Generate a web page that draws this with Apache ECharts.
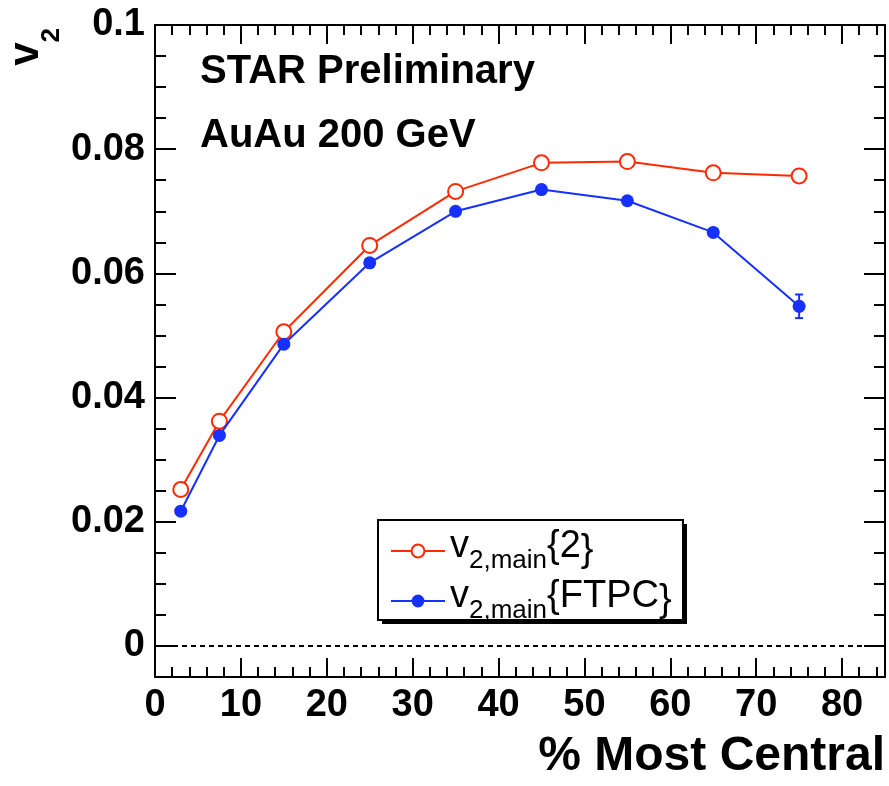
<!DOCTYPE html>
<html>
<head>
<meta charset="utf-8">
<script src="https://cdn.jsdelivr.net/npm/echarts@6/dist/echarts.min.js"></script>
<style>
  html, body { margin: 0; padding: 0; background: #fff; }
  #chart { width: 889px; height: 786px; }
</style>
</head>
<body>
<div id="chart"></div>
<script>
// ---- data ----
const centrality = [3, 7.5, 15, 25, 35, 45, 55, 65, 75];
const v2Two      = [0.0252, 0.0362, 0.0506, 0.0645, 0.0732, 0.0778, 0.0780, 0.0762, 0.0757];
const v2Ftpc     = [0.0217, 0.0339, 0.0486, 0.0617, 0.0700, 0.0735, 0.0717, 0.0666, 0.0547];
const v2FtpcErr  = [0, 0, 0, 0, 0, 0, 0, 0, 0.0019];

const seriesNames = ['v2,main{2}', 'v2,main{FTPC}'];
const legendRich  = ['{v|v}{s|2,main}{v|{2}}', '{v|v}{s|2,main}{v|{FTPC}}'];

const xTickValues = [0, 10, 20, 30, 40, 50, 60, 70, 80];
const xTickLabels = ['0', '10', '20', '30', '40', '50', '60', '70', '80'];
const xMinorTicks = [2,4,6,8,12,14,16,18,22,24,26,28,32,34,36,38,42,44,46,48,52,54,56,58,62,64,66,68,72,74,76,78,82,84];
const yTickValues = [0, 0.02, 0.04, 0.06, 0.08, 0.1];
const yTickLabels = ['0', '0.02', '0.04', '0.06', '0.08', '0.1'];
const yMinorTicks = [0.005,0.01,0.015,0.025,0.03,0.035,0.045,0.05,0.055,0.065,0.07,0.075,0.085,0.09,0.095];

const textLines = ['STAR Preliminary', 'AuAu 200 GeV'];
const xTitle = '% Most Central';

// ---- styling ----
const FONT = '"Liberation Sans", Arial, Helvetica, sans-serif';
const RED = '#ff2a00';
const BLUE = '#1530ff';
const X_MIN = 0, X_MAX = 85, Y_MIN = -0.005, Y_MAX = 0.1;

function labelFor(values, labels) {
  return function (v) {
    const i = values.findIndex(t => Math.abs(t - v) < 1e-9);
    return i >= 0 ? labels[i] : '';
  };
}

function xAx(pos, custom, len, withLabels, withLine) {
  return {
    type: 'value', position: pos, min: X_MIN, max: X_MAX,
    axisLine: { show: withLine, onZero: false, lineStyle: { color: '#000', width: 2 } },
    axisTick: { show: true, inside: true, length: len, customValues: custom, lineStyle: { color: '#000', width: 2 } },
    axisLabel: withLabels ? {
      show: true, customValues: xTickValues, formatter: labelFor(xTickValues, xTickLabels),
      margin: 10, color: '#000', fontFamily: FONT, fontWeight: 'bold', fontSize: 38
    } : { show: false },
    splitLine: { show: false },
    name: withLabels ? xTitle : '',
    nameLocation: 'end', nameGap: 0,
    nameTextStyle: { color: '#000', fontFamily: FONT, fontWeight: 'bold', fontSize: 48,
      align: 'right', verticalAlign: 'top', padding: [56, 0, 0, 0] }
  };
}
function yAx(pos, custom, len, withLabels, withLine) {
  return {
    type: 'value', position: pos, min: Y_MIN, max: Y_MAX,
    axisLine: { show: withLine, onZero: false, lineStyle: { color: '#000', width: 2 } },
    axisTick: { show: true, inside: true, length: len, customValues: custom, lineStyle: { color: '#000', width: 2 } },
    axisLabel: withLabels ? {
      show: true, customValues: yTickValues, formatter: labelFor(yTickValues, yTickLabels),
      margin: 10, color: '#000', fontFamily: FONT, fontWeight: 'bold', fontSize: 38
    } : { show: false },
    splitLine: { show: false }
  };
}

const chart = echarts.init(document.getElementById('chart'), null, { renderer: 'canvas' });

const errData = centrality.map((x, i) => [x, v2Ftpc[i], v2FtpcErr[i]]);

chart.setOption({
  backgroundColor: '#fff',
  animation: false,
  grid: { left: 155, right: 4, top: 25, bottom: 109, containLabel: false },
  xAxis: [
    xAx('bottom', xTickValues, 19, true, true),
    xAx('bottom', xMinorTicks, 10, false, false),
    xAx('top', xTickValues, 19, false, true),
    xAx('top', xMinorTicks, 10, false, false)
  ],
  yAxis: [
    yAx('left', yTickValues, 21, true, true),
    yAx('left', yMinorTicks, 11, false, false),
    yAx('right', yTickValues, 21, false, true),
    yAx('right', yMinorTicks, 11, false, false)
  ],
  legend: {
    orient: 'vertical', left: 378, top: 520,
    data: seriesNames,
    itemWidth: 54, itemHeight: 16, itemGap: 4,
    padding: [8, 12, 0, 12],
    backgroundColor: 'transparent', borderWidth: 0,
    formatter: function (name) { return legendRich[seriesNames.indexOf(name)]; },
    textStyle: {
      color: '#000', fontFamily: FONT, fontSize: 38,
      rich: {
        v: { fontFamily: FONT, fontSize: 38, lineHeight: 38, verticalAlign: 'top', color: '#000' },
        s: { fontFamily: FONT, fontSize: 26, lineHeight: 46, verticalAlign: 'bottom', color: '#000' }
      }
    }
  },
  graphic: [
    { type: 'rect', z: 1, silent: true, shape: { x: 382, y: 524, width: 305, height: 100 }, style: { fill: '#000' } },
    { type: 'rect', z: 1, silent: true, shape: { x: 378, y: 520, width: 305, height: 100 }, style: { fill: '#fff', stroke: '#000', lineWidth: 2 } },
    { type: 'text', left: 200, top: 52, style: { text: textLines[0], fill: '#000', font: 'bold 40px ' + FONT } },
    { type: 'text', left: 200, top: 116, style: { text: textLines[1], fill: '#000', font: 'bold 40px ' + FONT } },
    { type: 'text', x: 35, y: 28, rotation: Math.PI / 2,
      style: { text: '{v|v}{s|2}', align: 'right', verticalAlign: 'middle', fill: '#000',
        rich: {
          v: { fontFamily: FONT, fontWeight: 'bold', fontSize: 42, lineHeight: 42, verticalAlign: 'top' },
          s: { fontFamily: FONT, fontWeight: 'bold', fontSize: 26, lineHeight: 60, verticalAlign: 'bottom' }
        } } }
  ],
  series: [
    {
      name: seriesNames[0], type: 'line', xAxisIndex: 0, yAxisIndex: 0,
      data: centrality.map((x, i) => [x, v2Two[i]]),
      symbol: 'emptyCircle', symbolSize: 15,
      lineStyle: { color: RED, width: 2 },
      itemStyle: { color: RED, borderColor: RED, borderWidth: 2 },
      z: 3,
      markLine: {
        silent: true, symbol: ['none', 'none'], label: { show: false },
        lineStyle: { color: '#000', width: 2, type: [5, 4] },
        data: [{ yAxis: 0 }]
      }
    },
    {
      name: seriesNames[1], type: 'line', xAxisIndex: 0, yAxisIndex: 0,
      data: centrality.map((x, i) => [x, v2Ftpc[i]]),
      symbol: 'circle', symbolSize: 13,
      lineStyle: { color: BLUE, width: 2 },
      itemStyle: { color: BLUE },
      z: 4
    },
    {
      type: 'custom', xAxisIndex: 0, yAxisIndex: 0, z: 5,
      data: errData,
      renderItem: function (params, api) {
        const x = api.value(0), y = api.value(1), e = api.value(2);
        if (!e) return null;
        const top = api.coord([x, y + e]);
        const bot = api.coord([x, y - e]);
        const c = 4;
        const st = { stroke: BLUE, lineWidth: 2 };
        return {
          type: 'group',
          children: [
            { type: 'line', shape: { x1: top[0], y1: top[1], x2: bot[0], y2: bot[1] }, style: st },
            { type: 'line', shape: { x1: top[0] - c, y1: top[1], x2: top[0] + c, y2: top[1] }, style: st },
            { type: 'line', shape: { x1: bot[0] - c, y1: bot[1], x2: bot[0] + c, y2: bot[1] }, style: st }
          ]
        };
      }
    }
  ]
});
</script>
</body>
</html>
